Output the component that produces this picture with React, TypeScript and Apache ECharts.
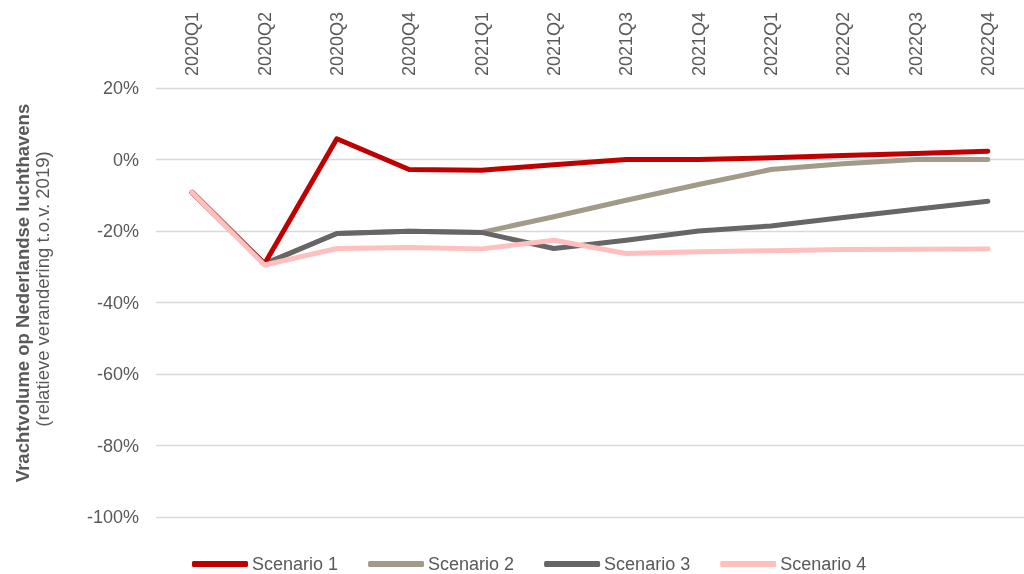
import React, { useEffect, useRef } from "react";
import * as echarts from "echarts";

const categories = ["2020Q1", "2020Q2", "2020Q3", "2020Q4", "2021Q1", "2021Q2", "2021Q3", "2021Q4", "2022Q1", "2022Q2", "2022Q3", "2022Q4"];
const scenario1 = [-9.2, -29.2, 5.8, -2.8, -3.0, -1.5, 0.0, 0.0, 0.5, 1.1, 1.7, 2.3];
const scenario2 = [-9.2, -29.2, -20.7, -20.1, -20.4, -16.0, -11.4, -7.0, -2.8, -1.2, 0.0, 0.0];
const scenario3 = [-9.2, -29.2, -20.7, -20.1, -20.4, -24.9, -22.6, -20.0, -18.6, -16.2, -13.9, -11.7];
const scenario4 = [-9.2, -29.5, -24.9, -24.6, -25.0, -22.6, -26.3, -25.8, -25.5, -25.2, -25.1, -25.0];
const seriesNames = ["Scenario 1", "Scenario 2", "Scenario 3", "Scenario 4"];
const yTicks = { min: -100, max: 20, interval: 20 };

const colors = ["#C00000", "#A39B8A", "#666666", "#FFBFBF"];
const zOrder = [4, 2, 3, 5];

export default function App() {
  const ref = useRef<HTMLDivElement>(null);
  useEffect(() => {
    if (!ref.current) return;
    const chart = echarts.init(ref.current, null, { renderer: "svg" });
    const data = [scenario1, scenario2, scenario3, scenario4];
    const font = "'Liberation Sans', Arial, sans-serif";
    chart.setOption({
      animation: false,
      textStyle: { fontFamily: font },
      grid: { left: 156, right: 0, top: 88, bottom: 57 },
      legend: {
        left: 192,
        top: 555,
        padding: 0,
        icon: "roundRect",
        itemWidth: 56,
        itemHeight: 6,
        itemGap: 30,
        textStyle: { fontSize: 18, color: "#595959", fontFamily: font, padding: [0, 0, 0, -1] },
        data: seriesNames,
      },
      xAxis: {
        type: "category",
        position: "top",
        data: categories,
        boundaryGap: true,
        axisLine: { show: false },
        axisTick: { show: false },
        axisLabel: { rotate: 90, margin: 12, fontSize: 18, color: "#595959", fontFamily: font },
      },
      yAxis: {
        type: "value",
        min: yTicks.min,
        max: yTicks.max,
        interval: yTicks.interval,
        axisLine: { show: false },
        axisTick: { show: false },
        axisLabel: { formatter: "{value}%", fontSize: 18, color: "#595959", margin: 17, fontFamily: font },
        splitLine: { lineStyle: { color: "#D9D9D9", width: 1.3 } },
      },
      graphic: [
        {
          type: "text",
          x: 22,
          y: 293,
          rotation: Math.PI / 2,
          style: {
            text: "Vrachtvolume op Nederlandse luchthavens",
            fontSize: 18.5,
            fontWeight: "bold",
            fill: "#595959",
            fontFamily: font,
            align: "center",
            verticalAlign: "middle",
          },
        },
        {
          type: "text",
          x: 42,
          y: 289,
          rotation: Math.PI / 2,
          style: {
            text: "(relatieve verandering t.o.v. 2019)",
            fontSize: 18.5,
            fill: "#595959",
            fontFamily: font,
            align: "center",
            verticalAlign: "middle",
          },
        },
      ],
      series: seriesNames.map((name, i) => ({
        name,
        type: "line",
        data: data[i],
        z: zOrder[i],
        showSymbol: false,
        symbol: "none",
        color: colors[i],
        lineStyle: { color: colors[i], width: 5, cap: "round", join: "round" },
        itemStyle: { color: colors[i] },
      })),
    });
    return () => chart.dispose();
  }, []);
  return <div ref={ref} style={{ position: "fixed", left: 0, top: 0, width: 1024, height: 574 }} />;
}
